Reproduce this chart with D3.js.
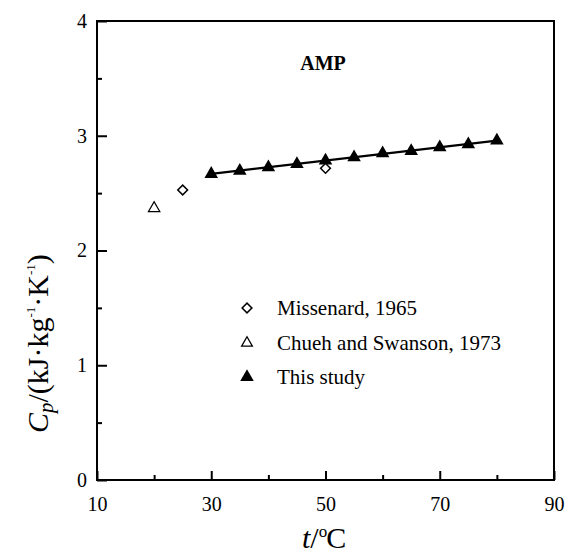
<!DOCTYPE html>
<html><head><meta charset="utf-8">
<script src="https://cdn.jsdelivr.net/npm/d3@7"></script>
<style>html,body{margin:0;padding:0;background:#fff}svg,svg text{font-family:"Liberation Serif","Times New Roman",serif}</style>
</head><body><svg id="c" width="567" height="556"></svg>
<script>
// Data
const studyT = [30,35,40,45,50,55,60,65,70,75,80];
const studyCp = [2.667,2.695,2.725,2.754,2.783,2.812,2.847,2.867,2.899,2.925,2.957];
const missT = [25,50];
const missCp = [2.527,2.716];
const chuehT = [20];
const chuehCp = [2.368];
const fitT = [30,80];
const fitCp = [2.668,2.958];
const xTicks = [10,30,50,70,90];
const xMinor = [20,40,60,80];
const yTicks = [0,1,2,3,4];
const yMinor = [0.5,1.5,2.5,3.5];
const legendLabels = ["Missenard, 1965","Chueh and Swanson, 1973","This study"];

const FONT = "Liberation Serif";
const svg = d3.select("#c");
const x = d3.scaleLinear().domain([10,90]).range([97,554]);
const y = d3.scaleLinear().domain([0,4]).range([480,21]);

// frame
svg.append("rect").attr("x",x(10)).attr("y",y(4)).attr("width",x(90)-x(10)).attr("height",y(0)-y(4))
  .attr("fill","none").attr("stroke","#000").attr("stroke-width",2);

// x axis
const xa = svg.append("g").attr("transform",`translate(0,${y(0)})`)
  .call(d3.axisBottom(x).tickValues(xTicks).tickSize(-9).tickPadding(17).tickFormat(d3.format("d")))
  .attr("font-family",FONT).attr("font-size",20);
xa.select(".domain").remove();
xa.selectAll("line").attr("stroke-width",2);
xa.selectAll("text").attr("fill","#000");
const xm = svg.append("g").attr("transform",`translate(0,${y(0)})`)
  .call(d3.axisBottom(x).tickValues(xMinor).tickSize(-5).tickFormat(""));
xm.select(".domain").remove();
xm.selectAll("line").attr("stroke-width",2);

// y axis
const ya = svg.append("g").attr("transform",`translate(${x(10)},0)`)
  .call(d3.axisLeft(y).tickValues(yTicks).tickSize(-10).tickPadding(10).tickFormat(d3.format("d")))
  .attr("font-family",FONT).attr("font-size",20);
ya.select(".domain").remove();
ya.selectAll("line").attr("stroke-width",2);
ya.selectAll("text").attr("fill","#000");
const ym = svg.append("g").attr("transform",`translate(${x(10)},0)`)
  .call(d3.axisLeft(y).tickValues(yMinor).tickSize(-5).tickFormat(""));
ym.select(".domain").remove();
ym.selectAll("line").attr("stroke-width",2);

// fit line
svg.append("path").datum(fitT.map((t,i)=>[t,fitCp[i]]))
  .attr("d",d3.line().x(d=>x(d[0])).y(d=>y(d[1])))
  .attr("fill","none").attr("stroke","#000").attr("stroke-width",2.2);

const tri = d3.symbol().type(d3.symbolTriangle);
const dia = d3.symbol().type(d3.symbolSquare).size(48);

// this study
svg.selectAll(".st").data(studyT.map((t,i)=>[t,studyCp[i]])).enter().append("path")
  .attr("d",tri.size(80)()).attr("transform",d=>`translate(${x(d[0])},${y(d[1])})`).attr("fill","#000");
// Missenard
svg.selectAll(".ms").data(missT.map((t,i)=>[t,missCp[i]])).enter().append("path")
  .attr("d",dia()).attr("transform",d=>`translate(${x(d[0])},${y(d[1])}) rotate(45)`)
  .attr("fill","#fff").attr("stroke","#000").attr("stroke-width",1.5);
// Chueh
svg.selectAll(".ch").data(chuehT.map((t,i)=>[t,chuehCp[i]])).enter().append("path")
  .attr("d",d3.symbol().type(d3.symbolTriangle).size(55)()).attr("transform",d=>`translate(${x(d[0])},${y(d[1])})`)
  .attr("fill","none").attr("stroke","#000").attr("stroke-width",1.3);

// title
svg.append("text").attr("x",323).attr("y",70).attr("text-anchor","middle").attr("font-weight","bold")
  .attr("font-family",FONT).attr("font-size",20).text("AMP");

// legend
const lg = svg.append("g").attr("font-family",FONT);
const ly = [308,343,377];
lg.append("path").attr("d",dia()).attr("transform",`translate(247,${ly[0]}) rotate(45)`)
  .attr("fill","#fff").attr("stroke","#000").attr("stroke-width",1.5);
lg.append("path").attr("d",d3.symbol().type(d3.symbolTriangle).size(50)()).attr("transform",`translate(247,${ly[1]})`)
  .attr("fill","none").attr("stroke","#000").attr("stroke-width",1.3);
lg.append("path").attr("d",tri.size(80)()).attr("transform",`translate(247,${ly[2]})`).attr("fill","#000");
legendLabels.forEach((l,i)=>{
  lg.append("text").attr("x",277).attr("y",ly[i]).attr("dy","0.35em").attr("font-size",21).text(l);
});

// x label
const xl = svg.append("text").attr("x",302).attr("y",548).attr("font-family",FONT).attr("font-size",30);
xl.append("tspan").attr("font-style","italic").text("t");
xl.append("tspan").text("/");
xl.append("tspan").attr("font-size",17).attr("dy",-11).text("o");
xl.append("tspan").attr("dy",11).attr("dx",-1).text("C");

// y label
const yl = svg.append("text").attr("transform","translate(48,433) rotate(-90)").attr("font-family",FONT).attr("font-size",30);
yl.append("tspan").attr("font-style","italic").text("C");
yl.append("tspan").attr("font-style","italic").attr("font-size",21).attr("dy",5).text("p");
yl.append("tspan").attr("dy",-5).text("/(kJ·kg");
yl.append("tspan").attr("font-size",13).attr("dy",-13).text("-1");
yl.append("tspan").attr("dy",13).text("·K");
yl.append("tspan").attr("font-size",13).attr("dy",-13).text("-1");
yl.append("tspan").attr("dy",13).text(")");
</script></body></html>
